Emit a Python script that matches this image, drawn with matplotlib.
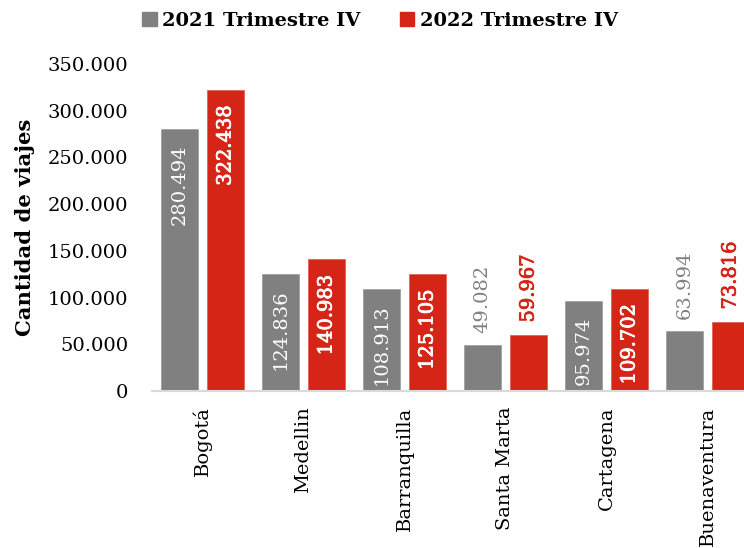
import matplotlib
matplotlib.use("Agg")
import matplotlib.pyplot as plt
import matplotlib.patheffects as pe
import numpy as np
from matplotlib.patches import Patch
from matplotlib.ticker import FuncFormatter

# data
ciudades = ["Bogotá", "Medellin", "Barranquilla", "Santa Marta", "Cartagena", "Buenaventura"]
viajes_2021 = [280494, 124836, 108913, 49082, 95974, 63994]
viajes_2022 = [322438, 140983, 125105, 59967, 109702, 73816]
series_names = ["2021 Trimestre IV", "2022 Trimestre IV"]

gris = "#808080"
rojo = "#D42517"

plt.rcParams["font.family"] = "DejaVu Serif"

def miles(v, pos=None):
    # thousands separator with a dot
    return f"{v:,.0f}".replace(",", ".")

fig = plt.figure(figsize=(7.44, 5.48), dpi=100)
ax = fig.add_axes([152 / 744, 1 - 391 / 548, 606 / 744, 327 / 548])

x = np.arange(len(ciudades))
w = 0.365
off = 0.228
bars1 = ax.bar(x - off, viajes_2021, w, color=gris, edgecolor="#9a9a9a", linewidth=0.5)
bars2 = ax.bar(x + off, viajes_2022, w, color=rojo, edgecolor="#e05a50", linewidth=0.5)

# data labels: inside the bar end when there is room, else above it
for bars, vals, col, stroke in [(bars1, viajes_2021, gris, 0.0), (bars2, viajes_2022, rojo, 0.6)]:
    for b, v in zip(bars, vals):
        cx = b.get_x() + b.get_width() / 2
        if v >= 90000:
            tcol = "white"
            t = ax.annotate(miles(v), (cx, v), xytext=(0, -11), textcoords="offset points",
                            rotation=90, ha="center", va="top", color=tcol, fontsize=14)
        else:
            tcol = col
            t = ax.annotate(miles(v), (cx, v), xytext=(0, 9), textcoords="offset points",
                            rotation=90, ha="center", va="bottom", color=tcol, fontsize=14)
        if stroke > 0:
            # red labels are drawn a little heavier
            t.set_path_effects([pe.withStroke(linewidth=stroke, foreground=tcol)])

ax.set_xlim(-0.5, len(ciudades) - 0.5)
ax.set_ylim(0, 350000)
ax.set_yticks(np.arange(0, 350001, 50000))
ax.yaxis.set_major_formatter(FuncFormatter(miles))
ax.set_xticks(x)
ax.set_xticklabels(ciudades, rotation=90, va="top", ha="center")
ax.tick_params(axis="y", length=0, pad=17, labelsize=14)
ax.tick_params(axis="x", length=0, pad=11, labelsize=14)

for s in ["top", "right", "left"]:
    ax.spines[s].set_visible(False)
ax.spines["bottom"].set_color("#d9d9d9")
ax.spines["bottom"].set_linewidth(1.5)

fig.text(25 / 744, 1 - 227 / 548, "Cantidad de viajes", rotation=90, ha="center", va="center",
         fontsize=15.2, fontweight="bold")

handles = [Patch(color=gris), Patch(color=rojo)]
fig.legend(handles, series_names, loc="center", bbox_to_anchor=(0.511, 0.962), ncol=2,
           frameon=False, handlelength=0.75, handleheight=0.75, handletextpad=0.3,
           columnspacing=2.0, prop={"size": 14, "weight": "bold"})

fig.savefig("out.png", dpi=100)
